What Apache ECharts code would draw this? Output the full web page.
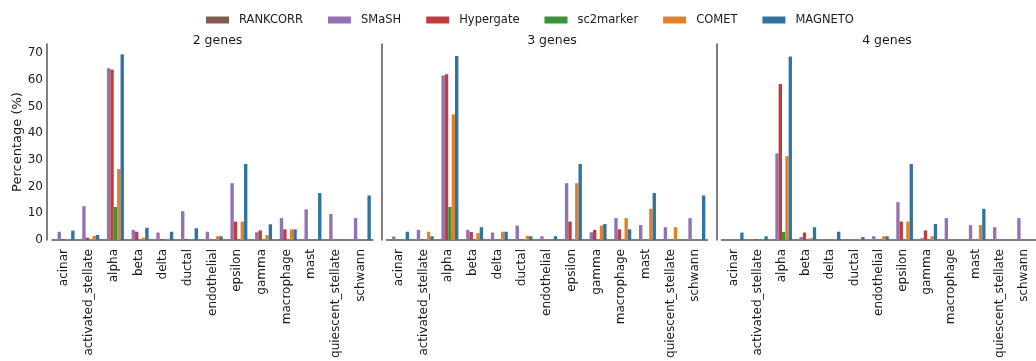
<!DOCTYPE html>
<html>
<head>
<meta charset="utf-8">
<script src="https://cdn.jsdelivr.net/npm/echarts@6/dist/echarts.min.js"></script>
<style>
  html, body { margin: 0; padding: 0; background: #fff; }
  #chart { width: 1036px; height: 361px; }
</style>
</head>
<body>
<div id="chart"></div>
<script>
// cell types on the x axis
const categories = ['acinar', 'activated_stellate', 'alpha', 'beta', 'delta', 'ductal',
  'endothelial', 'epsilon', 'gamma', 'macrophage', 'mast', 'quiescent_stellate', 'schwann'];
const methods = ['RANKCORR', 'SMaSH', 'Hypergate', 'sc2marker', 'COMET', 'MAGNETO'];
const colors = ['#845b53', '#9372b2', '#c03d3e', '#3a923a', '#e1812c', '#3274a1'];
const panelTitles = ['2 genes', '3 genes', '4 genes'];
const yTicks = [0, 10, 20, 30, 40, 50, 60, 70];

// 2 genes
const rankcorr2 = [0, 0, 0, 0, 0, 0, 0, 0, 0, 0, 0, 0, 0];
const smash2 = [3.1, 12.7, 64.4, 3.8, 2.8, 10.8, 3.1, 21.3, 2.9, 8.2, 11.5, 9.8, 8.2];
const hypergate2 = [0.3, 0.9, 63.9, 3.1, 0.3, 0.4, 0, 6.9, 3.6, 4.0, 0, 0, 0];
const sc2marker2 = [0, 0, 12.4, 0, 0, 0, 0, 0, 0, 0, 0, 0, 0];
const comet2 = [0, 1.5, 26.6, 0.9, 0.5, 0, 1.4, 6.9, 1.8, 4.0, 0, 0, 0];
const magneto2 = [3.5, 1.9, 69.6, 4.6, 3.1, 4.4, 1.4, 28.5, 5.9, 4.0, 17.6, 0, 16.7];

// 3 genes
const rankcorr3 = [0, 0, 0, 0, 0, 0, 0, 0, 0, 0, 0, 0, 0];
const smash3 = [1.3, 3.8, 61.7, 3.8, 2.8, 5.4, 1.4, 21.3, 2.9, 8.2, 5.6, 4.8, 8.2];
const hypergate3 = [0, 0.3, 62.2, 3.0, 0, 0.2, 0, 6.9, 3.8, 4.0, 0, 0, 0];
const sc2marker3 = [0, 0, 12.4, 0, 0, 0, 0, 0, 0, 0, 0, 0, 0];
const comet3 = [0.2, 3.1, 47.1, 2.6, 3.1, 1.6, 0, 21.3, 5.4, 8.2, 11.7, 4.8, 0];
const magneto3 = [3.1, 1.4, 69.0, 4.8, 3.1, 1.4, 1.4, 28.5, 6.0, 4.0, 17.6, 0, 16.7];

// 4 genes
const rankcorr4 = [0, 0, 0, 0, 0, 0, 0, 0, 0, 0, 0, 0, 0];
const smash4 = [0.4, 0, 32.5, 1.1, 0.2, 0.3, 1.4, 14.2, 0.7, 8.2, 5.6, 4.8, 8.2];
const hypergate4 = [0, 0.3, 58.5, 2.8, 0, 0, 0, 6.9, 3.6, 0, 0, 0, 0];
const sc2marker4 = [0, 0, 3.0, 0, 0, 0, 0, 0, 0, 0, 0, 0, 0];
const comet4 = [0, 0, 31.4, 0.7, 0.3, 0.2, 1.4, 6.9, 1.4, 0, 5.6, 0, 0];
const magneto4 = [2.8, 1.4, 68.8, 4.8, 3.1, 1.1, 1.4, 28.5, 6.0, 0, 11.7, 0, 0];

const panels = [
  [rankcorr2, smash2, hypergate2, sc2marker2, comet2, magneto2],
  [rankcorr3, smash3, hypergate3, sc2marker3, comet3, magneto3],
  [rankcorr4, smash4, hypergate4, sc2marker4, comet4, magneto4],
];

const font = 'DejaVu Sans';
const axisColor = '#555';
const textColor = '#1a1a1a';
const gridLefts = [52, 386.5, 721.5];
const gridWidth = 321;

const chart = echarts.init(document.getElementById('chart'), null, { renderer: 'canvas' });

const grids = gridLefts.map(left => ({ left, width: gridWidth, top: 44, height: 196 }));

const xAxes = gridLefts.map((_, i) => ({
  type: 'category',
  gridIndex: i,
  data: categories,
  offset: 4,
  axisLine: { lineStyle: { color: axisColor, width: 1.5 } },
  axisTick: { show: false },
  axisLabel: { rotate: 90, interval: 0, margin: 5, color: textColor, fontFamily: font, fontSize: 12 },
  splitLine: { show: false },
}));

const yAxes = gridLefts.map((_, i) => ({
  type: 'value',
  gridIndex: i,
  min: 0,
  max: 73.5,
  interval: 10,
  offset: 5,
  name: i === 0 ? 'Percentage (%)' : '',
  nameLocation: 'middle',
  nameGap: 22,
  nameTextStyle: { color: textColor, fontFamily: font, fontSize: 13 },
  axisLine: { show: true, lineStyle: { color: axisColor, width: 1.5 } },
  axisTick: { show: false },
  axisLabel: {
    show: i === 0, color: textColor, fontFamily: font, fontSize: 12, margin: 4,
    showMaxLabel: false,
    formatter: v => (yTicks.includes(v) ? String(v) : ''),
  },
  splitLine: { show: false },
}));

const series = [];
panels.forEach((panel, p) => {
  panel.forEach((values, m) => {
    series.push({
      name: methods[m],
      type: 'bar',
      xAxisIndex: p,
      yAxisIndex: p,
      data: values,
      barGap: '0%',
      barCategoryGap: '17.5%',
      itemStyle: { color: colors[m] },
      emphasis: { disabled: true },
    });
  });
});

chart.setOption({
  animation: false,
  backgroundColor: '#fff',
  color: colors,
  title: panelTitles.map((text, i) => ({
    text,
    left: gridLefts[i] + gridWidth / 2,
    top: 29,
    textAlign: 'center',
    textStyle: { fontFamily: font, fontSize: 12.5, fontWeight: 'normal', color: textColor },
  })),
  legend: {
    data: methods,
    left: 201,
    top: 9,
    itemWidth: 23,
    itemHeight: 7,
    itemGap: 25,
    icon: 'rect',
    textStyle: { fontFamily: font, fontSize: 11.5, color: textColor, padding: [0, 0, 0, 5] },
  },
  grid: grids,
  xAxis: xAxes,
  yAxis: yAxes,
  series,
});
</script>
</body>
</html>
